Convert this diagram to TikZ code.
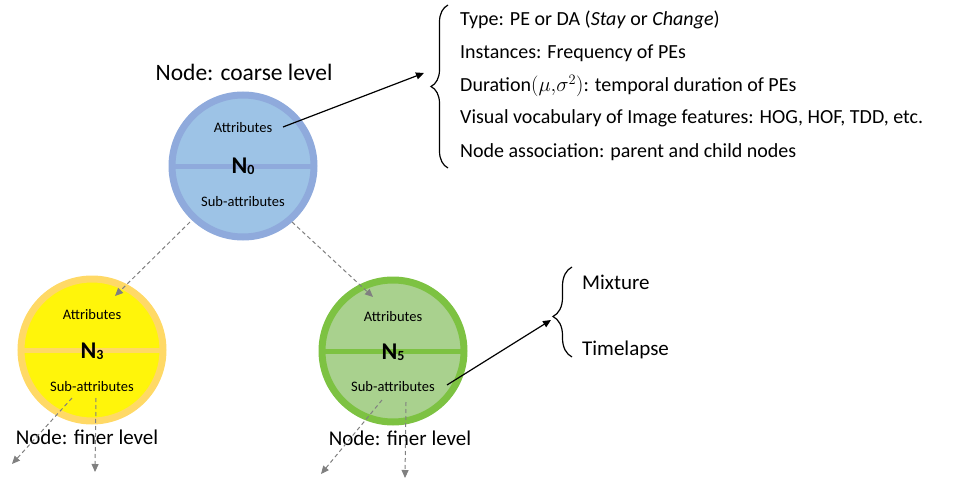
\documentclass[tikz,border=0pt]{standalone}
\usepackage{fontspec}
\setmainfont{Carlito}
\usetikzlibrary{arrows.meta,decorations.pathreplacing}
\definecolor{bluefill}{RGB}{157,195,230}
\definecolor{bluering}{RGB}{143,170,220}
\definecolor{yelfill}{RGB}{255,245,10}
\definecolor{yelring}{RGB}{255,217,102}
\definecolor{grnfill}{RGB}{169,209,142}
\definecolor{grnring}{RGB}{125,194,66}
\definecolor{dgrey}{RGB}{128,128,128}
\tikzset{
  ball/.style={circle, minimum size=142pt, inner sep=0pt, outer sep=0pt, line width=7pt},
  small/.style={font=\fontsize{14.5}{17}\selectfont, inner sep=0pt},
  lbl/.style={font=\fontsize{21}{25}\selectfont, inner sep=0pt},
  big/.style={font=\fontsize{23.5}{28}\selectfont, inner sep=0pt},
  txt/.style={font=\fontsize{20}{24}\selectfont, inner sep=0pt, anchor=west},
  nname/.style={font=\fontsize{24}{28}\selectfont\bfseries, inner sep=0pt},
  darr/.style={dgrey, line width=1pt, dash pattern=on 4pt off 3pt, -{Triangle[length=8pt,width=7pt]}},
  sarr/.style={black, line width=1.2pt, -{Triangle[length=8pt,width=7pt]}},
  brc/.style={decorate, line width=1.2pt, black}
}
\newcommand{\nsub}[2]{#1\raisebox{-0.1ex}{\fontsize{14}{16}\selectfont #2}}
\begin{document}
\begin{tikzpicture}[x=1pt,y=-1pt]
\useasboundingbox (0,0) rectangle (954,479);
% N0
\node[ball, draw=bluering, fill=bluefill] (n0) at (243,166) {};
\draw[bluering, line width=5pt] (n0.west) -- (n0.east);
\node[small] (n0a) at (243,128) {Attributes};
\node[nname] (n0n) at (243,166) {\nsub{N}{0}};
\node[small] (n0s) at (243,202) {Sub-attributes};
\node[big] (n0l) at (244,72) {Node: coarse level};
% N3
\node[ball, draw=yelring, fill=yelfill] (n3) at (92,350) {};
\draw[yelring, line width=5pt] (n3.west) -- (n3.east);
\node[small] (n3a) at (92,315) {Attributes};
\node[nname] (n3n) at (92,351) {\nsub{N}{3}};
\node[small] (n3s) at (92,387) {Sub-attributes};
\node[lbl] (n3l) at (87,437) {Node: finer level};
% N5
\node[ball, draw=grnring, fill=grnfill] (n5) at (393,351) {};
\draw[grnring, line width=5pt] (n5.west) -- (n5.east);
\node[small] (n5a) at (393,317) {Attributes};
\node[nname] (n5n) at (393,352) {\nsub{N}{5}};
\node[small] (n5s) at (393,387) {Sub-attributes};
\node[lbl] (n5l) at (400,438) {Node: finer level};
% dashed arrows between nodes
\coordinate (a1s) at (190,222);
\coordinate (a1e) at (115,296);
\coordinate (a2s) at (292,222);
\coordinate (a2e) at (373,297);
\draw[darr] (a1s) -- (a1e);
\draw[darr] (a2s) -- (a2e);
% dashed arrows out of N3 and N5
\coordinate (b1s) at (72,398);
\coordinate (b1e) at (12,464);
\coordinate (b2s) at (96,398);
\coordinate (b2e) at (95,472);
\coordinate (c1s) at (382,400);
\coordinate (c1e) at (321,474);
\coordinate (c2s) at (406,402);
\coordinate (c2e) at (405,478);
\draw[darr] (b1s) -- (b1e);
\draw[darr] (b2s) -- (b2e);
\draw[darr] (c1s) -- (c1e);
\draw[darr] (c2s) -- (c2e);
% brace 1 and list
\draw[brc, decoration={brace, amplitude=17pt}] (448,168) -- (448,5);
\coordinate (t1) at (424,73);
\draw[sarr] (283,127) -- (t1);
\node[txt] (l1) at (460,20) {Type: PE or DA (\textit{Stay} or \textit{Change})};
\node[txt] (l2) at (460,53) {Instances: Frequency of PEs};
\node[txt] (l3) at (460,86) {Duration$(\mu{,}\sigma^2)$: temporal duration of PEs};
\node[txt] (l4) at (460,118) {Visual vocabulary of Image features: HOG, HOF, TDD, etc.};
\node[txt] (l5) at (460,152) {Node association: parent and child nodes};
% brace 2
\draw[brc, decoration={brace, amplitude=19pt, aspect=0.45}] (572,357) -- (572,267);
\coordinate (t2) at (551,320);
\draw[sarr] (447,385) -- (t2);
\node[txt, font=\fontsize{21}{25}\selectfont] (m1) at (582,282) {Mixture};
\node[txt, font=\fontsize{21}{25}\selectfont] (m2) at (582,350) {Timelapse};
\end{tikzpicture}
\end{document}
